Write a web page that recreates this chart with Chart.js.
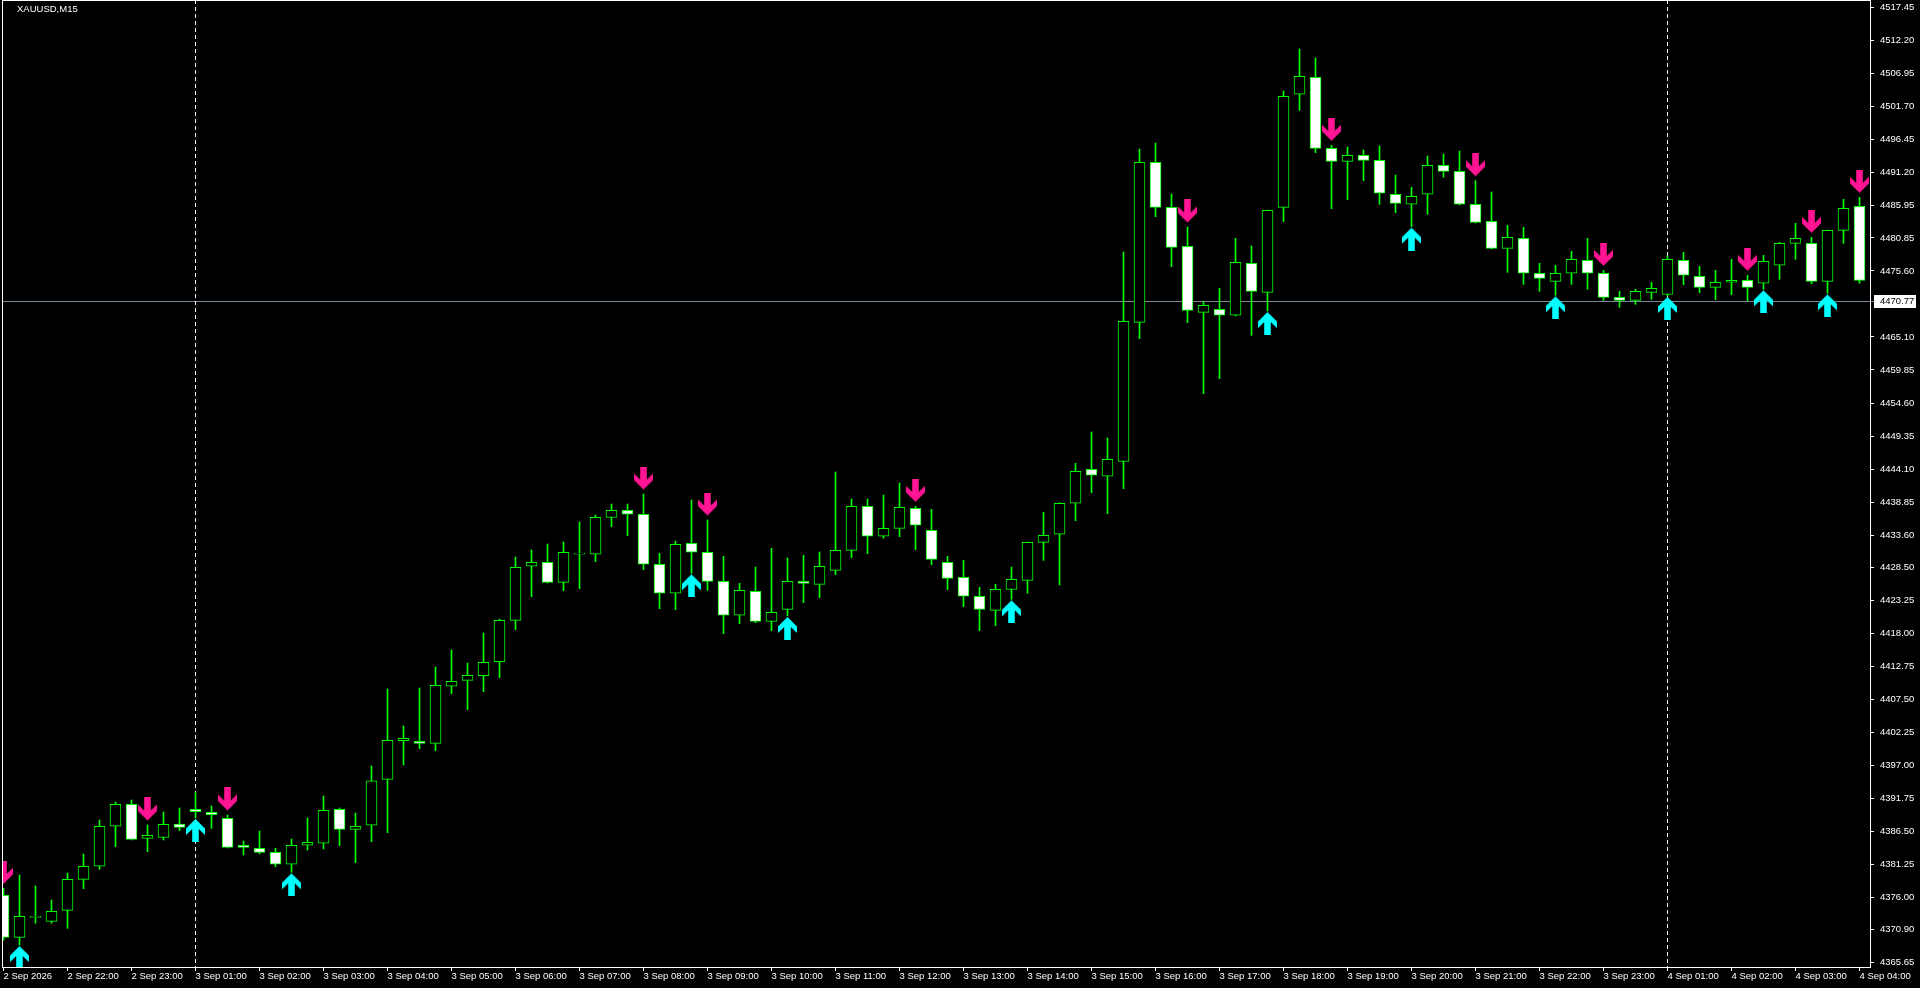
<!DOCTYPE html>
<html><head><meta charset="utf-8">
<script src="https://cdn.jsdelivr.net/npm/chart.js@4.4.1/dist/chart.umd.min.js"></script>
<style>html,body{margin:0;padding:0;background:#000;overflow:hidden}canvas{display:block}</style>
</head><body>
<canvas id="c" width="1920" height="988" style="width:1920px;height:988px"></canvas>
<script>
const symbolTitle = 'XAUUSD,M15';
const hourLabels = ["2 Sep 2026","2 Sep 22:00","2 Sep 23:00",
"3 Sep 01:00","3 Sep 02:00","3 Sep 03:00","3 Sep 04:00","3 Sep 05:00","3 Sep 06:00","3 Sep 07:00","3 Sep 08:00",
"3 Sep 09:00","3 Sep 10:00","3 Sep 11:00","3 Sep 12:00","3 Sep 13:00","3 Sep 14:00","3 Sep 15:00","3 Sep 16:00",
"3 Sep 17:00","3 Sep 18:00","3 Sep 19:00","3 Sep 20:00","3 Sep 21:00","3 Sep 22:00","3 Sep 23:00",
"4 Sep 01:00","4 Sep 02:00","4 Sep 03:00","4 Sep 04:00"];
const opens = [4376.33,4369.65,4372.83,4372.19,4373.94,4378.87,4380.94,4387.30,4390.80,4385.39,
4385.55,4387.66,4390.00,4389.52,4388.57,4384.28,4383.80,4383.17,4381.26,4384.28,
4384.60,4390.00,4386.82,4387.46,4394.77,4400.91,4400.81,4400.49,4409.56,4410.51,
4411.24,4413.47,4420.05,4428.64,4429.27,4426.09,4430.55,4430.55,4436.43,4437.54,
4436.91,4428.96,4424.35,4432.29,4430.87,4426.25,4420.85,4424.66,4419.89,4421.80,
4426.25,4425.77,4428.00,4431.18,4438.18,4433.41,4434.68,4437.86,4434.36,4429.27,
4426.89,4423.87,4421.64,4424.98,4426.41,4432.45,4433.73,4438.66,4444.06,4442.95,
4445.33,4467.43,4492.87,4485.72,4479.52,4469.02,4469.50,4468.55,4476.82,4472.20,
4485.72,4503.69,4506.39,4495.10,4493.03,4493.99,4493.19,4487.79,4486.20,4487.79,
4492.40,4491.44,4486.20,4483.49,4479.20,4480.79,4475.23,4473.95,4475.23,4477.29,
4475.23,4471.41,4470.93,4472.20,4471.85,4477.29,4474.75,4473.00,4473.80,4474.11,
4473.64,4476.50,4479.99,4479.99,4473.95,4482.06,4485.88];
const highs = [4377.44,4379.55,4377.81,4375.58,4379.87,4382.89,4388.30,4391.17,4391.48,4387.51,
4389.57,4390.21,4392.64,4390.53,4389.10,4384.96,4386.55,4383.80,4385.28,4388.62,
4392.12,4390.21,4389.41,4396.89,4409.13,4403.25,4409.29,4412.63,4415.33,4413.26,
4418.03,4420.26,4430.12,4431.23,4432.18,4432.50,4435.68,4436.79,4438.54,4438.54,
4440.13,4430.70,4432.66,4439.18,4436.00,4430.23,4425.93,4428.53,4431.50,4429.96,
4430.39,4430.91,4443.63,4439.34,4439.34,4439.97,4441.88,4438.18,4437.70,4430.23,
4429.59,4425.30,4425.77,4428.53,4432.50,4437.23,4438.75,4445.01,4449.99,4449.04,
4478.61,4494.99,4495.94,4487.83,4482.59,4470.71,4472.84,4480.79,4479.57,4485.29,
4504.21,4510.89,4509.46,4495.58,4495.31,4494.83,4495.47,4490.86,4488.90,4493.88,
4494.19,4494.67,4489.95,4488.15,4482.86,4482.54,4476.82,4476.50,4478.72,4480.79,
4475.70,4472.36,4472.68,4473.80,4477.98,4478.56,4476.34,4475.70,4477.45,4474.91,
4478.09,4480.15,4483.17,4480.95,4482.11,4486.99,4487.31];
const lows = [4369.22,4368.42,4371.88,4371.88,4371.08,4377.38,4380.46,4384.05,4385.12,4383.26,
4385.12,4386.60,4388.62,4386.98,4383.85,4382.74,4382.93,4380.88,4379.99,4383.53,
4383.69,4384.22,4381.51,4384.85,4386.28,4397.05,4399.64,4399.32,4408.38,4405.84,
4408.70,4410.93,4418.56,4423.80,4425.98,4424.76,4425.08,4429.37,4434.93,4433.50,
4428.10,4421.89,4421.74,4427.53,4424.82,4417.92,4419.51,4419.67,4418.40,4420.74,
4422.85,4423.65,4427.30,4430.00,4430.64,4433.09,4433.35,4431.28,4428.89,4424.92,
4422.22,4418.40,4419.19,4423.39,4424.35,4429.59,4425.66,4435.89,4440.34,4437.00,
4440.98,4464.83,4484.22,4476.27,4467.37,4456.08,4458.47,4468.44,4465.37,4469.23,
4483.43,4501.14,4494.40,4485.50,4486.93,4489.95,4486.20,4484.86,4482.64,4484.61,
4490.49,4486.09,4483.22,4479.09,4475.38,4473.48,4472.36,4471.73,4473.48,4472.68,
4470.93,4469.82,4470.30,4471.09,4471.62,4473.41,4472.14,4471.03,4471.82,4470.87,
4472.68,4474.27,4477.45,4473.57,4472.04,4479.99,4473.64];
const closes = [4369.65,4372.99,4372.83,4373.78,4378.87,4380.94,4387.30,4390.80,4385.23,4385.87,
4387.62,4387.14,4389.62,4389.14,4383.96,4383.96,4383.14,4381.26,4384.28,4384.76,
4389.84,4386.82,4387.30,4394.53,4400.97,4401.29,4400.49,4409.71,4410.35,4411.31,
4413.37,4420.05,4428.48,4429.27,4426.09,4430.87,4430.75,4436.43,4437.54,4436.91,
4428.96,4424.35,4432.13,4430.87,4426.25,4420.85,4424.82,4419.89,4421.33,4426.25,
4425.93,4428.64,4431.18,4438.18,4433.41,4434.68,4438.02,4435.16,4429.75,4426.73,
4423.87,4421.80,4424.98,4426.57,4432.45,4433.57,4438.66,4443.72,4443.11,4445.65,
4467.59,4492.87,4485.72,4479.36,4469.34,4470.14,4468.55,4476.97,4472.36,4485.24,
4503.37,4506.55,4495.10,4493.03,4493.99,4493.19,4487.95,4486.35,4487.47,4492.40,
4491.44,4486.20,4483.33,4479.20,4480.95,4475.23,4474.43,4475.23,4477.45,4475.23,
4471.41,4470.93,4472.36,4472.84,4477.45,4474.91,4473.00,4473.80,4474.11,4473.00,
4477.13,4479.99,4480.79,4473.95,4482.06,4485.56,4474.11];
const sellSignals = [0,9,14,40,44,57,74,83,92,100,109,113,116];
const buySignals = [1,12,18,43,49,63,79,88,97,104,110,114];
const priceTicks = [4517.45,4512.20,4506.95,4501.70,4496.45,4491.20,4485.95,4480.85,4475.60,4465.10,
4459.85,4454.60,4449.35,4444.10,4438.85,4433.60,4428.50,4423.25,4418.00,4412.75,4407.50,4402.25,
4397.00,4391.75,4386.50,4381.25,4376.00,4370.90,4365.65];
const daySeparators = [12, 104];
const bidPrice = 4470.77;

const LIME = '#00FF00', SELL = '#FF1493', BUY = '#00FFFF';
const FONT = { family: 'Liberation Sans, Arial, sans-serif', size: 9.5 };

function arrowImage(color, down, gap) {
  const W = 19, A = 23, H = 2 * (A + gap);
  const c = document.createElement('canvas');
  c.width = W; c.height = H;
  const g = c.getContext('2d');
  const cx = W / 2, s = down ? -1 : 1;
  const ty = down ? H / 2 - gap : H / 2 + gap;
  const pts = [[-3.3, 23], [3.3, 23], [3.3, 10], [9.5, 16], [9.5, 9.5], [0, 0], [-9.5, 9.5], [-9.5, 16], [-3.3, 10]];
  g.fillStyle = color;
  g.beginPath();
  pts.forEach((p, k) => { const x = cx + p[0], y = ty + s * p[1]; k ? g.lineTo(x, y) : g.moveTo(x, y); });
  g.closePath(); g.fill();
  return c;
}

const idx = opens.map((_, i) => i);
const bull = idx.map(i => closes[i] >= opens[i]);

const overlay = {
  id: 'overlay',
  beforeDatasetsDraw(chart) {
    const { ctx, chartArea: a, scales: { x, y } } = chart;
    ctx.save();
    ctx.beginPath(); ctx.rect(a.left, a.top, a.right - a.left, a.bottom - a.top); ctx.clip();
    const by = Math.round(y.getPixelForValue(bidPrice)) + 0.5;
    ctx.strokeStyle = '#778899'; ctx.lineWidth = 1;
    ctx.beginPath(); ctx.moveTo(a.left, by); ctx.lineTo(a.right, by); ctx.stroke();
    ctx.strokeStyle = '#FFFFFF'; ctx.setLineDash([4, 3]);
    daySeparators.forEach(i => {
      const px = Math.floor(x.getPixelForValue(i)) + 0.5;
      ctx.beginPath(); ctx.moveTo(px, a.top); ctx.lineTo(px, a.bottom); ctx.stroke();
    });
    ctx.restore();
  },
  afterDraw(chart) {
    const { ctx, chartArea: a, scales: { y } } = chart;
    ctx.save();
    ctx.strokeStyle = '#FFFFFF'; ctx.lineWidth = 1;
    ctx.strokeRect(a.left + 0.5, a.top + 0.5, a.right - a.left, a.bottom - a.top);
    const by = Math.round(y.getPixelForValue(bidPrice));
    ctx.strokeStyle = '#778899';
    ctx.beginPath(); ctx.moveTo(a.right + 1, by + 0.5); ctx.lineTo(a.right + 4, by + 0.5); ctx.stroke();
    ctx.fillStyle = '#FFFFFF';
    ctx.fillRect(a.right + 4, by - 6, 42, 13);
    ctx.fillStyle = '#000000';
    ctx.font = `${FONT.size}px ${FONT.family}`;
    ctx.textBaseline = 'middle'; ctx.textAlign = 'left';
    ctx.fillText(bidPrice.toFixed(2), a.right + 10, by + 0.5);
    ctx.fillStyle = '#FFFFFF';
    ctx.fillText(symbolTitle, 17, 9.5);
    ctx.restore();
  }
};

new Chart(document.getElementById('c'), {
  type: 'bar',
  data: {
    datasets: [
      { type: 'scatter', data: sellSignals.map(i => ({ x: i, y: highs[i] })), pointStyle: arrowImage(SELL, true, 4.5), pointRadius: 10, pointHoverRadius: 10 },
      { type: 'scatter', data: buySignals.map(i => ({ x: i, y: lows[i] })), pointStyle: arrowImage(BUY, false, 1), pointRadius: 10, pointHoverRadius: 10 },
      { label: 'body', data: idx.map(i => ({ x: i, y: [opens[i], closes[i]] })),
        backgroundColor: idx.map(i => bull[i] ? '#000000' : '#FFFFFF'), borderColor: LIME, borderWidth: 1,
        borderSkipped: false, barThickness: 11, minBarLength: 1 },
      { label: 'wick', data: idx.map(i => ({ x: i, y: [lows[i], highs[i]] })),
        backgroundColor: LIME, borderWidth: 0, barThickness: 1 }
    ]
  },
  options: {
    responsive: false, animation: false, devicePixelRatio: 1,
    layout: { autoPadding: false, padding: { left: 2, top: 0, right: 0, bottom: 0 } },
    plugins: { legend: { display: false }, tooltip: { enabled: false } },
    events: [],
    scales: {
      x: {
        type: 'linear', min: -0.09375, max: 116.65625, stacked: true, offset: false, bounds: 'data',
        grid: { offset: false, drawOnChartArea: false, drawTicks: true, tickLength: 4, color: '#FFFFFF' },
        border: { display: false },
        ticks: { autoSkip: false, maxRotation: 0, minRotation: 0, align: 'start', padding: 0, color: '#FFFFFF', font: FONT,
          callback: v => hourLabels[Math.round(v / 4)] },
        afterBuildTicks: s => { s.ticks = hourLabels.map((_, k) => ({ value: k * 4 })); },
        afterFit: s => { s.height = 21; s.paddingLeft = 0; s.paddingRight = 0; }
      },
      y: {
        type: 'linear', position: 'right', min: 4364.927, max: 4518.68, stacked: false, bounds: 'data',
        grid: { drawOnChartArea: false, drawTicks: true, tickLength: 4, color: '#FFFFFF' },
        border: { display: false },
        ticks: { autoSkip: false, padding: 6, color: '#FFFFFF', font: FONT, crossAlign: 'near', callback: v => v.toFixed(2) },
        afterBuildTicks: s => { s.ticks = priceTicks.map(v => ({ value: v })); },
        afterFit: s => { s.width = 50; s.paddingTop = 0; s.paddingBottom = 0; }
      }
    }
  },
  plugins: [overlay]
});
</script>
</body></html>
